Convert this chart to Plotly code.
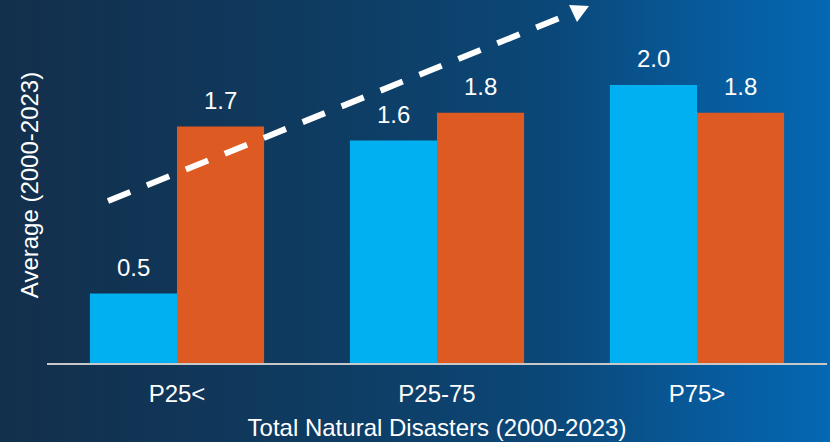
import base64
import plotly.graph_objects as go

# Data
categories = ["P25<", "P25-75", "P75>"]
series_a = [0.5, 1.6, 2.0]
series_b = [1.7, 1.8, 1.8]
series_names = ["Series A", "Series B"]
colors = ["#00B0F0", "#DE5A23"]

# Figure geometry
W, H = 830, 442
M = dict(l=47, r=3, t=7, b=79)
PW = W - M["l"] - M["r"]
PH = H - M["t"] - M["b"]
BARGAP = 0.33
FONT = "Liberation Sans, Arial, sans-serif"
FS = 24


def px_to_paper(x, y):
    return (x - M["l"]) / PW, (H - M["b"] - y) / PH


fig = go.Figure()
for name, vals, col in zip(series_names, [series_a, series_b], colors):
    fig.add_trace(go.Bar(
        x=categories, y=vals, name=name,
        marker=dict(color=col, line=dict(width=0)),
        hoverinfo="x+y",
    ))

# Value labels above each bar
bar_px = PW / len(categories) * (1 - BARGAP) / 2
annotations = []
for i, vals in enumerate([series_a, series_b]):
    shift = (i - 0.5) * bar_px
    for c, v in zip(categories, vals):
        annotations.append(dict(
            x=c, y=v, xref="x", yref="y", text=f"{v:.1f}",
            showarrow=False, xshift=shift, yshift=26, yanchor="middle",
            font=dict(family=FONT, size=FS, color="white"),
        ))

# Dashed trend arrow
x0, y0 = px_to_paper(108, 201)
x1, y1 = px_to_paper(572, 13)
shapes = [dict(
    type="line", xref="paper", yref="paper", x0=x0, y0=y0, x1=x1, y1=y1,
    line=dict(color="white", width=6, dash="24px,18px"), layer="above",
)]
tip = px_to_paper(589, 6)
b1 = px_to_paper(569, 5)
b2 = px_to_paper(577, 22)
shapes.append(dict(
    type="path", xref="paper", yref="paper",
    path=f"M {tip[0]} {tip[1]} L {b1[0]} {b1[1]} L {b2[0]} {b2[1]} Z",
    fillcolor="white", line=dict(width=0), layer="above",
))

# Horizontal background gradient
svg = (
    f'<svg xmlns="http://www.w3.org/2000/svg" width="{W}" height="{H}">'
    '<defs><linearGradient id="g" x1="0" y1="0" x2="1" y2="0">'
    '<stop offset="0" stop-color="#132f4b"/>'
    '<stop offset="0.35" stop-color="#0f3a5f"/>'
    '<stop offset="0.66" stop-color="#0b4777"/>'
    '<stop offset="0.85" stop-color="#075a9b"/>'
    '<stop offset="1" stop-color="#0468b3"/>'
    '</linearGradient></defs>'
    f'<rect width="{W}" height="{H}" fill="url(#g)"/></svg>'
)
src = "data:image/svg+xml;base64," + base64.b64encode(svg.encode()).decode()
left, top = px_to_paper(0, 0)
images = [dict(
    source=src, xref="paper", yref="paper", x=left, y=top,
    sizex=W / PW, sizey=H / PH, sizing="stretch",
    xanchor="left", yanchor="top", layer="below",
)]

fig.update_layout(
    width=W, height=H, margin=M,
    paper_bgcolor="#0f3a5f", plot_bgcolor="rgba(0,0,0,0)",
    barmode="group", bargap=BARGAP, bargroupgap=0,
    showlegend=False,
    font=dict(family=FONT, size=FS, color="white"),
    annotations=annotations, shapes=shapes, images=images,
    xaxis=dict(
        showline=True, linecolor="#c8c8c8", linewidth=2,
        showgrid=False, zeroline=False,
        ticks="outside", ticklen=8, tickcolor="rgba(0,0,0,0)",
        tickfont=dict(family=FONT, size=FS, color="white"),
        title=dict(text="Total Natural Disasters (2000-2023)",
                   font=dict(family=FONT, size=FS, color="white"),
                   standoff=13),
    ),
    yaxis=dict(
        range=[0, 2.56], showgrid=False, zeroline=False, showline=False,
        showticklabels=False, ticks="",
        title=dict(text="Average (2000-2023)",
                   font=dict(family=FONT, size=FS, color="white"),
                   standoff=0),
    ),
)

fig.write_html("out.html")
